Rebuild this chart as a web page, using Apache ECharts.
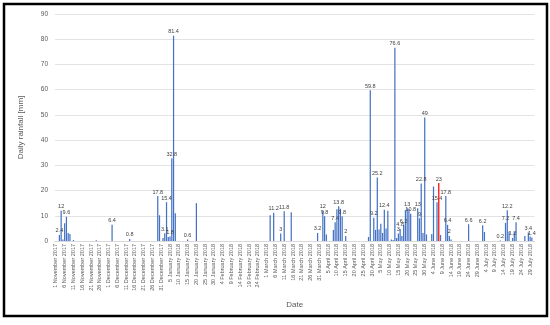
<!DOCTYPE html>
<html><head><meta charset="utf-8">
<script src="https://cdn.jsdelivr.net/npm/echarts@6/dist/echarts.min.js"></script>
<style>html,body{margin:0;padding:0;background:#fff}#c{width:550px;height:325px}</style>
</head><body><div id="c"></div>
<script>
const startDate = '2017-11-01';
const endDate = '2018-07-31';
const monthNames = ['January','February','March','April','May','June','July','August','September','October','November','December'];
const yTicks = [0,10,20,30,40,50,60,70,80,90];

const rainDates = [
 '2017-11-03','2017-11-04','2017-11-05','2017-11-06','2017-11-07','2017-11-08','2017-11-09','2017-11-11','2017-11-24',
 '2017-12-03','2017-12-13','2017-12-29','2017-12-30',
 '2018-01-01','2018-01-02','2018-01-03','2018-01-04','2018-01-05','2018-01-06','2018-01-07','2018-01-08','2018-01-15','2018-01-20',
 '2018-03-03','2018-03-05','2018-03-09','2018-03-11','2018-03-15','2018-03-30',
 '2018-04-02','2018-04-03','2018-04-04','2018-04-08','2018-04-09','2018-04-10','2018-04-11','2018-04-12','2018-04-13','2018-04-15','2018-04-28','2018-04-29',
 '2018-05-01','2018-05-02','2018-05-03','2018-05-04','2018-05-05','2018-05-06','2018-05-07','2018-05-08','2018-05-09','2018-05-11','2018-05-12','2018-05-13',
 '2018-05-14','2018-05-15','2018-05-16','2018-05-17','2018-05-18','2018-05-19','2018-05-20','2018-05-21','2018-05-22','2018-05-26','2018-05-27','2018-05-28','2018-05-29','2018-05-30','2018-05-31',
 '2018-06-03','2018-06-04','2018-06-06','2018-06-07','2018-06-08','2018-06-11','2018-06-12','2018-06-13','2018-06-14','2018-06-24',
 '2018-07-02','2018-07-03','2018-07-12','2018-07-15','2018-07-16','2018-07-17','2018-07-19','2018-07-20','2018-07-21','2018-07-26','2018-07-28','2018-07-29','2018-07-30'
];
const rainValues = [
 2.4,12,0.6,7,9.6,3.2,2.8,0.4,0.3,
 6.4,0.8,17.8,10.2,
 1.2,3.1,15.4,1.6,1.8,32.8,81.4,11,0.6,15,
 10.2,11.2,3,11.8,11.4,3.2,
 12,9.8,2.6,4.4,7.4,12.6,13.8,12.8,9.8,2,1.6,59.8,
 9.2,4.4,25.2,4.6,6.8,3.2,12.4,5,12,0.6,0.4,76.6,
 1.2,3,4.8,2,6.2,12.2,13,12.6,10.8,13,9,22.8,3.2,49,2.6,
 2.8,21.6,15.4,23,2.4,17.8,6.4,2,0.6,6.6,
 6.2,3.6,0.2,7.2,12.2,3.8,1.2,3.6,7.4,2,3.4,1.8,1.4
];
const labeledDates = [
 '2017-11-03','2017-11-04','2017-11-07','2017-12-03','2017-12-13','2017-12-29',
 '2018-01-02','2018-01-03','2018-01-05','2018-01-06','2018-01-07','2018-01-15',
 '2018-03-05','2018-03-09','2018-03-11','2018-03-30',
 '2018-04-02','2018-04-03','2018-04-09','2018-04-11','2018-04-13','2018-04-15','2018-04-29',
 '2018-05-01','2018-05-03','2018-05-07','2018-05-13','2018-05-15','2018-05-16','2018-05-18','2018-05-20','2018-05-22','2018-05-26','2018-05-27','2018-05-28','2018-05-30',
 '2018-06-06','2018-06-07','2018-06-11','2018-06-12','2018-06-13','2018-06-24',
 '2018-07-02','2018-07-12','2018-07-15','2018-07-16','2018-07-19','2018-07-21','2018-07-28','2018-07-30'
];
const highlightDates = ['2018-06-07'];

// build daily categories
function parse(s){const p=s.split('-');return Date.UTC(+p[0],+p[1]-1,+p[2]);}
function iso(t){const d=new Date(t);return d.getUTCFullYear()+'-'+String(d.getUTCMonth()+1).padStart(2,'0')+'-'+String(d.getUTCDate()).padStart(2,'0');}
const categories=[];
for(let t=parse(startDate);t<=parse(endDate);t+=86400000){categories.push(iso(t));}
const lookup={};rainDates.forEach((d,i)=>{lookup[d]=rainValues[i];});
const seriesData=categories.map(d=>{
  if(!(d in lookup)) return null;
  const item={value:lookup[d]};
  if(labeledDates.includes(d)) item.label={show:true};
  if(highlightDates.includes(d)) item.itemStyle={color:'#FF0000'};
  return item;
});
function fmt(s){const p=s.split('-');return (+p[2])+' '+monthNames[+p[1]-1]+' '+p[0];}

const chart=echarts.init(document.getElementById('c'),null,{renderer:'canvas'});
const FONT='"Liberation Sans", Arial, sans-serif';
chart.setOption({
  animation:false,
  backgroundColor:'#fff',
  textStyle:{fontFamily:FONT},
  grid:{left:55,right:15.5,top:14,bottom:84,containLabel:false},
  xAxis:{
    type:'category',data:categories,boundaryGap:true,
    name:'Date',nameLocation:'middle',nameGap:60,
    nameTextStyle:{fontSize:8,color:'#595959',fontFamily:FONT},
    axisLine:{lineStyle:{color:'#d9d9d9',width:1}},
    axisTick:{show:false},
    axisLabel:{interval:4,rotate:90,fontSize:5.5,color:'#595959',margin:3,fontFamily:FONT,formatter:v=>fmt(v)}
  },
  yAxis:{
    type:'value',min:yTicks[0],max:yTicks[yTicks.length-1],interval:10,
    name:'Daily rainfall [mm]',nameLocation:'middle',nameGap:30,
    nameTextStyle:{fontSize:8,color:'#595959',fontFamily:FONT},
    axisLine:{show:false},axisTick:{show:false},
    splitLine:{lineStyle:{color:'#e3e3e3',width:1}},
    axisLabel:{fontSize:6.5,color:'#595959',margin:7,fontFamily:FONT}
  },
  series:[{
    type:'bar',data:seriesData,barWidth:'70%',
    itemStyle:{color:'#4472C4'},
    label:{show:false,position:'top',distance:1,fontSize:5.5,color:'#404040',fontFamily:FONT},
    emphasis:{disabled:true}
  }],
  graphic:[{type:'rect',shape:{x:4,y:4,width:543,height:312},style:{fill:null,stroke:'#000',lineWidth:2.5},silent:true}]
});
</script></body></html>
